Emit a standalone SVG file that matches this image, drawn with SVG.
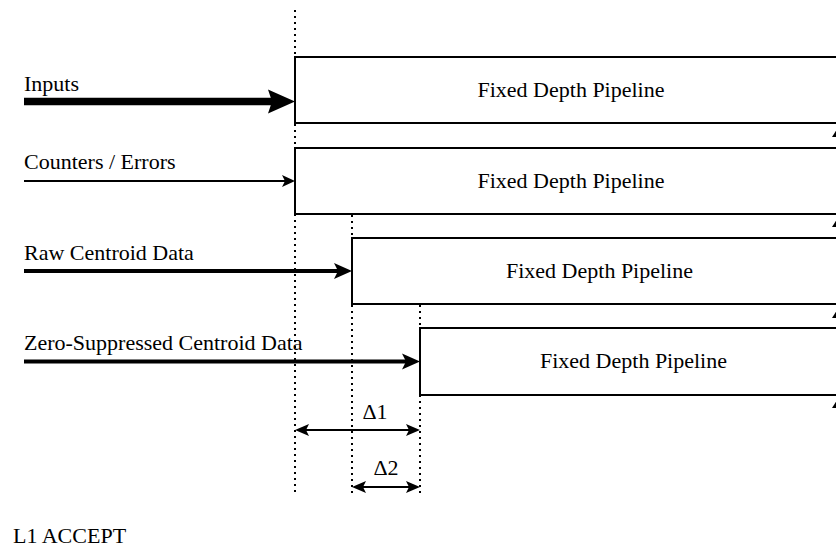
<svg xmlns="http://www.w3.org/2000/svg" width="836" height="552" viewBox="0 0 836 552">
  <style>
    text { font-family: "Liberation Serif", "Times New Roman", serif; font-size: 22px; fill: #000; }
    .box { fill: #fff; stroke: #000; stroke-width: 2; }
    .dot { stroke: #000; stroke-width: 2; stroke-dasharray: 2 4; fill: none; }
    .line { stroke: #000; fill: none; }
    .head { fill: #000; stroke: none; }
  </style>
  <rect width="836" height="552" fill="#fff"/>

  <!-- timing reference lines -->
  <g id="guides">
    <line class="dot" x1="295" y1="10" x2="295" y2="496"/>
    <line class="dot" x1="352" y1="215" x2="352" y2="496"/>
    <line class="dot" x1="420" y1="305" x2="420" y2="496"/>
  </g>

  <!-- pipelines -->
  <g id="pipe-inputs">
    <rect class="box" x="295" y="57" width="560" height="66"/>
    <text x="571" y="97" text-anchor="middle">Fixed Depth Pipeline</text>
  </g>
  <g id="pipe-counters">
    <rect class="box" x="295" y="148" width="560" height="66"/>
    <text x="571" y="188" text-anchor="middle">Fixed Depth Pipeline</text>
  </g>
  <g id="pipe-raw">
    <rect class="box" x="352" y="238" width="503" height="66"/>
    <text x="599.5" y="278" text-anchor="middle">Fixed Depth Pipeline</text>
  </g>
  <g id="pipe-zs">
    <rect class="box" x="420" y="328" width="435" height="67"/>
    <text x="633.5" y="368" text-anchor="middle">Fixed Depth Pipeline</text>
  </g>

  <!-- input labels -->
  <g id="label-inputs"><text x="24" y="91">Inputs</text></g>
  <g id="label-counters"><text x="24" y="169">Counters / Errors</text></g>
  <g id="label-raw"><text x="24" y="260">Raw Centroid Data</text></g>
  <g id="label-zs"><text x="24" y="350">Zero-Suppressed Centroid Data</text></g>
  <g id="label-l1"><text x="13" y="543">L1 ACCEPT</text></g>

  <!-- connectors -->
  <g id="connectors">
    <line class="line" x1="24" y1="101.5" x2="272" y2="101.5" stroke-width="7.5"/>
    <polygon class="head" points="295,101.5 268,89.5 272,101.5 268,113.5"/>

    <line class="line" x1="24" y1="181" x2="285" y2="181" stroke-width="2"/>
    <polygon class="head" points="295,181 282,175 285,181 282,187"/>

    <line class="line" x1="24" y1="271" x2="338" y2="271" stroke-width="4"/>
    <polygon class="head" points="352,271 334,263 338,271 334,279"/>

    <line class="line" x1="24" y1="361.5" x2="406" y2="361.5" stroke-width="4"/>
    <polygon class="head" points="420,361.5 402,353.5 406,361.5 402,369.5"/>

    <!-- delta spans -->
    <line class="line" x1="305" y1="430" x2="410" y2="430" stroke-width="2"/>
    <polygon class="head" points="295,430 309,424 306,430 309,436"/>
    <polygon class="head" points="420,430 406,424 409,430 406,436"/>

    <line class="line" x1="362" y1="487" x2="410" y2="487" stroke-width="2"/>
    <polygon class="head" points="352,487 366,481 363,487 366,493"/>
    <polygon class="head" points="420,487 406,481 409,487 406,493"/>

    <!-- outputs leaving past the right edge -->
    <polygon class="head" points="839,126 832,137 846,137"/>
    <polygon class="head" points="839,216 832,227 846,227"/>
    <polygon class="head" points="839,307 832,318 846,318"/>
    <polygon class="head" points="839,397 832,408 846,408"/>
  </g>

  <g id="deltas">
    <text x="375" y="419" text-anchor="middle">Δ1</text>
    <text x="386" y="475" text-anchor="middle">Δ2</text>
  </g>
</svg>
